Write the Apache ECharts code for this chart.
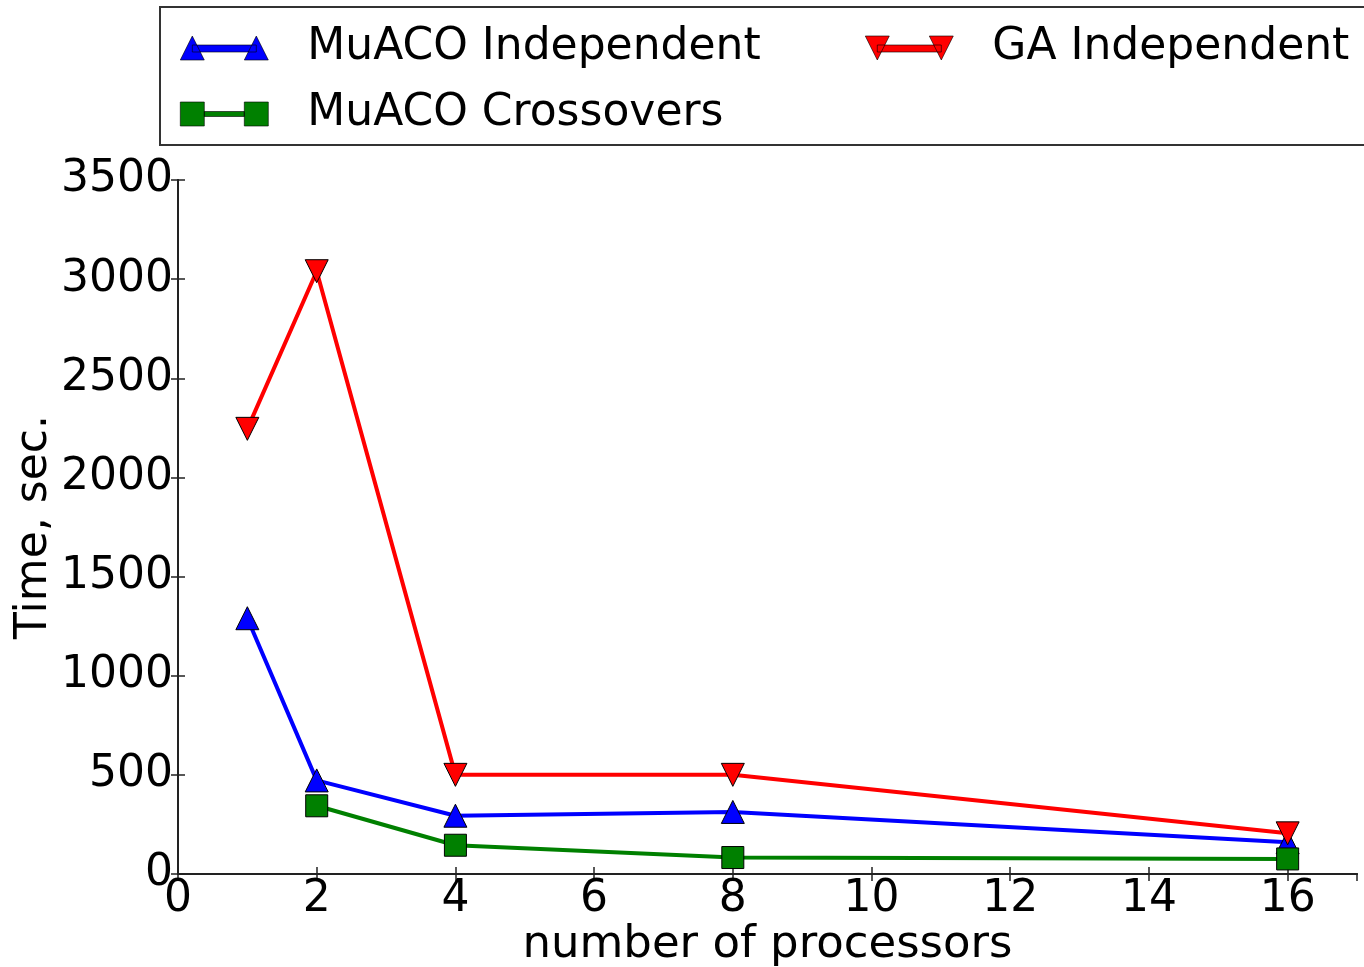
<!DOCTYPE html>
<html>
<head>
<meta charset="utf-8">
<script src="https://cdn.jsdelivr.net/npm/echarts@6/dist/echarts.min.js"></script>
<style>
html,body{margin:0;padding:0;background:#fff;}
#chart{width:1364px;height:967px;}
</style>
</head>
<body>
<div id="chart"></div>
<script>
var processors = [1, 2, 4, 8, 16];
var muacoIndependent = [1290, 472, 294, 313, 160];
var muacoCrossovers = [null, 344, 145, 83, 76];
var gaIndependent = [2245, 3040, 500, 500, 205];
var xTickLabels = [0, 2, 4, 6, 8, 10, 12, 14, 16];
var yTickLabels = [0, 500, 1000, 1500, 2000, 2500, 3000, 3500];

function pairs(vals) {
  var out = [];
  for (var i = 0; i < processors.length; i++) {
    if (vals[i] !== null) out.push([processors[i], vals[i]]);
  }
  return out;
}

var FONT = 'DejaVu Sans';
var chart = echarts.init(document.getElementById('chart'));

var triUpIcon = 'path://M0,24 L12,0 L24,24 Z M12,9 L76,9 L76,16 L12,16 Z M64,24 L76,0 L88,24 Z';
var triDownIcon = 'path://M0,0 L24,0 L12,24 Z M12,9 L76,9 L76,16 L12,16 Z M64,0 L88,0 L76,24 Z';
var squareIcon = 'path://M0,0 L24,0 L24,24 L0,24 Z M24,9.5 L64,9.5 L64,14.5 L24,14.5 Z M64,0 L88,0 L88,24 L64,24 Z';

function legendCfg(name, icon, left, top) {
  return {
    data: [{ name: name, icon: icon }],
    left: left, top: top, padding: 0,
    itemWidth: 88, itemHeight: 24,
    itemStyle: { borderColor: '#000', borderWidth: 0.6 },
    textStyle: { fontFamily: FONT, fontSize: 44, color: '#000', padding: [0, 0, 0, 34] },
    selectedMode: false
  };
}

var axisLineStyle = { color: '#222', width: 2 };
var tickCfg = { show: true, inside: true, length: 7, lineStyle: { color: '#222', width: 1.5 } };

chart.setOption({
  animation: false,
  backgroundColor: '#fff',
  graphic: [{
    type: 'rect', z: 0,
    shape: { x: 160, y: 7, width: 1230, height: 138 },
    style: { fill: '#fff', stroke: '#333', lineWidth: 2 }
  }],
  legend: [
    legendCfg('MuACO Independent', triUpIcon, 180, 26),
    legendCfg('GA Independent', triDownIcon, 865, 26),
    legendCfg('MuACO Crossovers', squareIcon, 180, 92)
  ],
  grid: { left: 178, right: 7, top: 180, bottom: 93, outerBoundsMode: 'none', containLabel: false },
  xAxis: [{
    type: 'value', min: 0, max: 17, interval: 2,
    name: 'number of processors', nameLocation: 'middle', nameGap: 49, nameMoveOverlap: false,
    nameTextStyle: { fontFamily: FONT, fontSize: 45, color: '#000' },
    axisLine: { show: true, lineStyle: axisLineStyle },
    axisTick: tickCfg,
    axisLabel: {
      fontFamily: FONT, fontSize: 44, color: '#000', margin: 4, showMaxLabel: false,
      formatter: function (v) { return xTickLabels.indexOf(v) >= 0 ? String(v) : ''; }
    },
    splitLine: { show: false }
  }, {
    type: 'value', min: 0, max: 17, interval: 2, position: 'top',
    axisLine: { show: true, lineStyle: axisLineStyle },
    axisTick: tickCfg,
    axisLabel: { show: false },
    splitLine: { show: false }
  }],
  yAxis: [{
    type: 'value', min: 0, max: 3500, interval: 500,
    name: 'Time, sec.', nameLocation: 'middle', nameGap: 121, nameMoveOverlap: false,
    nameTextStyle: { fontFamily: FONT, fontSize: 44, color: '#000' },
    axisLine: { show: true, lineStyle: axisLineStyle },
    axisTick: tickCfg,
    axisLabel: {
      fontFamily: FONT, fontSize: 44, color: '#000', margin: 5,
      formatter: function (v) { return yTickLabels.indexOf(v) >= 0 ? String(v) : ''; }
    },
    splitLine: { show: false }
  }, {
    type: 'value', min: 0, max: 3500, interval: 500, position: 'right',
    axisLine: { show: true, lineStyle: axisLineStyle },
    axisTick: tickCfg,
    axisLabel: { show: false },
    splitLine: { show: false }
  }],
  series: [{
    name: 'MuACO Independent', type: 'line', data: pairs(muacoIndependent),
    symbol: 'triangle', symbolSize: 23,
    lineStyle: { color: '#0000ff', width: 4 },
    itemStyle: { color: '#0000ff', borderColor: '#000', borderWidth: 1 },
    z: 2
  }, {
    name: 'MuACO Crossovers', type: 'line', data: pairs(muacoCrossovers),
    symbol: 'rect', symbolSize: 22,
    lineStyle: { color: '#008000', width: 4 },
    itemStyle: { color: '#008000', borderColor: '#000', borderWidth: 1 },
    z: 3
  }, {
    name: 'GA Independent', type: 'line', data: pairs(gaIndependent),
    symbol: 'triangle', symbolRotate: 180, symbolSize: 23,
    lineStyle: { color: '#ff0000', width: 4 },
    itemStyle: { color: '#ff0000', borderColor: '#000', borderWidth: 1 },
    z: 4
  }]
});
</script>
</body>
</html>
